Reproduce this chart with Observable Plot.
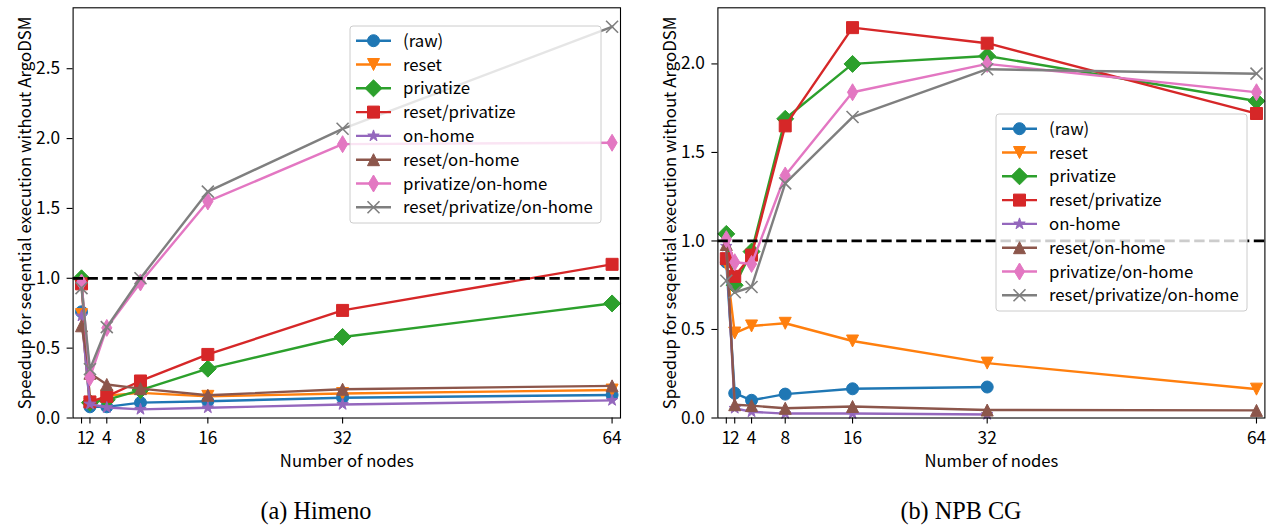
<!DOCTYPE html>
<html><head><meta charset="utf-8">
<script src="https://cdn.jsdelivr.net/npm/d3@7"></script>
<script src="https://cdn.jsdelivr.net/npm/@observablehq/plot@0.6"></script>
<style>
html,body{margin:0;padding:0;background:#fff;}
body{width:1271px;height:526px;overflow:hidden;position:relative;}
.panel{position:absolute;top:0;}
.cap{position:absolute;font-family:"Liberation Serif","DejaVu Serif",serif;color:#000;white-space:nowrap;transform:translate(-50%,-50%);line-height:1;}
</style></head><body>
<div id="root"></div>
<script>
// ---------- data ----------
const nodes = [1, 2, 4, 8, 16, 32, 64];
const xTicks = [1, 2, 4, 8, 16, 32, 64];
const yTicksHimeno = [0, 0.5, 1.0, 1.5, 2.0, 2.5];
const yTicksCG = [0, 0.5, 1.0, 1.5, 2.0];
const referenceLine = [1];
const seriesNames = ["(raw)", "reset", "privatize", "reset/privatize", "on-home", "reset/on-home", "privatize/on-home", "reset/privatize/on-home"];
const seriesColors = ["#1f77b4", "#ff7f0e", "#2ca02c", "#d62728", "#9467bd", "#8c564b", "#e377c2", "#7f7f7f"];
const seriesMarkers = ["circle", "triangleDown", "diamond", "square", "star", "triangleUp", "thinDiamond", "x"];

// (a) Himeno
const himenoRaw          = [0.76, 0.08, 0.08, 0.11, 0.12, 0.145, 0.165];
const himenoReset        = [0.74, 0.10, 0.16, 0.18, 0.155, 0.175, 0.20];
const himenoPrivatize    = [1.00, 0.11, 0.13, 0.20, 0.353, 0.58, 0.82];
const himenoResetPriv    = [0.96, 0.115, 0.155, 0.265, 0.455, 0.77, 1.10];
const himenoOnHome       = [0.73, 0.10, 0.075, 0.062, 0.073, 0.097, 0.126];
const himenoResetOnHome  = [0.66, 0.32, 0.24, 0.21, 0.163, 0.206, 0.23];
const himenoPrivOnHome   = [0.97, 0.29, 0.645, 0.97, 1.55, 1.96, 1.97];
const himenoAll          = [0.93, 0.35, 0.65, 1.00, 1.62, 2.07, 2.80];

// (b) NPB CG
const cgRaw          = [0.88, 0.14, 0.10, 0.135, 0.165, 0.175, null];
const cgReset        = [0.87, 0.48, 0.52, 0.535, 0.435, 0.31, 0.163];
const cgPrivatize    = [1.04, 0.75, 0.94, 1.69, 2.00, 2.045, 1.79];
const cgResetPriv    = [0.90, 0.80, 0.92, 1.65, 2.205, 2.117, 1.72];
const cgOnHome       = [0.97, 0.055, 0.035, 0.025, 0.025, 0.02, null];
const cgResetOnHome  = [0.98, 0.075, 0.07, 0.055, 0.065, 0.045, 0.043];
const cgPrivOnHome   = [1.01, 0.88, 0.87, 1.37, 1.84, 2.00, 1.84];
const cgAll          = [0.775, 0.71, 0.74, 1.325, 1.70, 1.97, 1.945];

const himenoSeries = [himenoRaw, himenoReset, himenoPrivatize, himenoResetPriv, himenoOnHome, himenoResetOnHome, himenoPrivOnHome, himenoAll];
const cgSeries = [cgRaw, cgReset, cgPrivatize, cgResetPriv, cgOnHome, cgResetOnHome, cgPrivOnHome, cgAll];

const xLabel = "Number of nodes";
const yLabel = "Speedup for seqential execution without ArgoDSM";

// ---------- fonts ----------
const SANS = '"Noto Sans CJK JP", "Noto Sans", sans-serif';
const SERIF = '"Liberation Serif", "DejaVu Serif", serif';
const ctx = document.createElement("canvas").getContext("2d");
function fitSize(text, family, target) {
  ctx.font = `100px ${family}`;
  return 100 * target / ctx.measureText(text).width;
}
const FS = fitSize("reset/privatize/on-home", SANS, 190);   // legend
const TFS = fitSize("0.0", SANS, 24);                        // tick labels
const YFS = fitSize(yLabel, SANS, 393);                      // y label
const XFS = fitSize(xLabel, SANS, 134);                      // x label
const CAPFS = fitSize("(a) Himeno", SERIF, 111);

// ---------- matplotlib-like markers ----------
function mk(fn) { return { draw(c, size) { const h = Math.sqrt(size / Math.PI); fn(c, h); } }; }
const symbols = {
  circle: mk((c, h) => { c.moveTo(h, 0); c.arc(0, 0, h, 0, 2 * Math.PI); c.closePath(); }),
  triangleDown: mk((c, h) => { c.moveTo(0, h); c.lineTo(-h, -h); c.lineTo(h, -h); c.closePath(); }),
  triangleUp: mk((c, h) => { c.moveTo(0, -h); c.lineTo(-h, h); c.lineTo(h, h); c.closePath(); }),
  diamond: mk((c, h) => { const d = h * 1.4142; c.moveTo(0, -d); c.lineTo(d, 0); c.lineTo(0, d); c.lineTo(-d, 0); c.closePath(); }),
  thinDiamond: mk((c, h) => { const d = h * 1.4142, w = d * 0.6; c.moveTo(0, -d); c.lineTo(w, 0); c.lineTo(0, d); c.lineTo(-w, 0); c.closePath(); }),
  square: mk((c, h) => { c.moveTo(-h, -h); c.lineTo(h, -h); c.lineTo(h, h); c.lineTo(-h, h); c.closePath(); }),
  star: mk((c, h) => {
    for (let i = 0; i < 10; i++) {
      const a = -Math.PI / 2 + i * Math.PI / 5, rr = i % 2 ? h * 0.381966 : h;
      const px = rr * Math.cos(a), py = rr * Math.sin(a);
      if (i === 0) c.moveTo(px, py); else c.lineTo(px, py);
    }
    c.closePath();
  }),
  x: mk((c, h) => { c.moveTo(-h, -h); c.lineTo(h, h); c.moveTo(-h, h); c.lineTo(h, -h); })
};
const MR = 6;      // marker half-size (px)
const LW = 2.4;    // line width

function seriesMarks(series) {
  const marks = [];
  series.forEach((vals, i) => {
    const data = nodes.map((n, j) => ({ x: n, y: vals[j] })).filter(d => d.y != null);
    const color = seriesColors[i];
    marks.push(Plot.line(data, { x: "x", y: "y", stroke: color, strokeWidth: LW, strokeLinejoin: "round", strokeLinecap: "square" }));
    const isX = seriesMarkers[i] === "x";
    marks.push(Plot.dot(data, {
      x: "x", y: "y", r: MR, symbol: symbols[seriesMarkers[i]],
      fill: isX ? "none" : color, stroke: color, strokeWidth: isX ? 1.6 : 1
    }));
  });
  return marks;
}

function addLegend(svg, bx, by) {
  const g = d3.select(svg).append("g").attr("font-family", SANS).attr("font-size", FS).attr("text-anchor", "start");
  g.append("rect").attr("x", bx).attr("y", by).attr("width", 251).attr("height", 197)
    .attr("rx", 3).attr("fill", "white").attr("fill-opacity", 0.8).attr("stroke", "#cccccc").attr("stroke-width", 1);
  seriesNames.forEach((name, i) => {
    const cy = by + 14.7 + i * 23.8;
    const color = seriesColors[i];
    g.append("line").attr("x1", bx + 6).attr("x2", bx + 41).attr("y1", cy).attr("y2", cy)
      .attr("stroke", color).attr("stroke-width", LW);
    const isX = seriesMarkers[i] === "x";
    g.append("path").attr("d", d3.symbol(symbols[seriesMarkers[i]], Math.PI * MR * MR)())
      .attr("transform", `translate(${bx + 23.5},${cy})`)
      .attr("fill", isX ? "none" : color).attr("stroke", color).attr("stroke-width", isX ? 1.6 : 1);
    g.append("text").attr("x", bx + 53).attr("y", cy).attr("dy", "0.36em").attr("text-anchor", "start")
      .attr("fill", "black").text(name);
  });
}

function panel({ series, yMax, yTicks, width, marginLeft, marginRight }) {
  return Plot.plot({
    width, height: 475,
    marginLeft, marginRight, marginTop: 7.3, marginBottom: 57.5,
    style: { fontFamily: SANS, fontSize: TFS + "px", color: "black", background: "white", overflow: "visible" },
    x: { domain: [0, 65], label: null },
    y: { domain: [0, yMax], label: null },
    marks: [
      Plot.axisX({ ticks: xTicks, tickFormat: d => String(d), tickSize: 6, tickPadding: 8, label: null, stroke: "black", strokeWidth: 1.1 }),
      Plot.axisY({ ticks: yTicks, tickFormat: d => d.toFixed(1), tickSize: 6, tickPadding: 7, label: null, stroke: "black", strokeWidth: 1.1 }),
      ...seriesMarks(series),
      Plot.ruleY(referenceLine, { stroke: "black", strokeWidth: 2.8, strokeDasharray: "10.4,4.5" }),
      Plot.frame({ stroke: "black", strokeWidth: 1.1 }),
      Plot.text([xLabel], { frameAnchor: "bottom", dy: 43.5, textAnchor: "middle", lineAnchor: "middle", fill: "black", fontSize: XFS }),
      Plot.text([yLabel], { frameAnchor: "left", dx: -47.6, rotate: -90, textAnchor: "middle", lineAnchor: "middle", fill: "black", fontSize: YFS })
    ]
  });
}

const root = document.getElementById("root");

const left = panel({ series: himenoSeries, yMax: 2.936, yTicks: yTicksHimeno, width: 636, marginLeft: 72.6, marginRight: 16 });
const leftDiv = document.createElement("div");
leftDiv.className = "panel"; leftDiv.style.left = "0px";
leftDiv.appendChild(left); root.appendChild(leftDiv);
addLegend(left, 350, 26);

const right = panel({ series: cgSeries, yMax: 2.317, yTicks: yTicksCG, width: 635, marginLeft: 81.4, marginRight: 6.6 });
const rightDiv = document.createElement("div");
rightDiv.className = "panel"; rightDiv.style.left = "636px";
rightDiv.appendChild(right); root.appendChild(rightDiv);
addLegend(right, 360, 114);

function caption(text, cx, cy) {
  const d = document.createElement("div");
  d.className = "cap"; d.textContent = text;
  d.style.left = cx + "px"; d.style.top = cy + "px"; d.style.fontSize = CAPFS + "px";
  root.appendChild(d);
}
caption("(a) Himeno", 316, 511);
caption("(b) NPB CG", 961, 511);
</script>
</body></html>
